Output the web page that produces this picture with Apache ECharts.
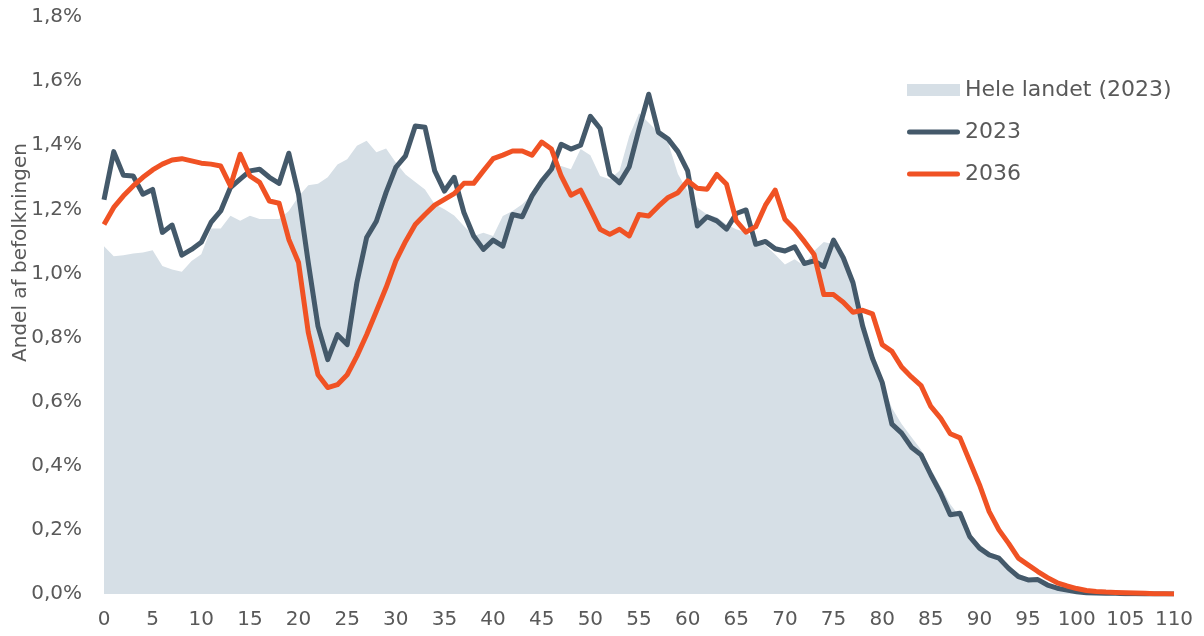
<!DOCTYPE html>
<html>
<head>
<meta charset="utf-8">
<script src="https://cdn.jsdelivr.net/npm/echarts@6/dist/echarts.min.js"></script>
<style>
  html, body { margin: 0; padding: 0; background: #fff; }
  #chart { width: 1204px; height: 636px; }
</style>
</head>
<body>
<div id="chart"></div>
<script>
// alder 0..110
const ages = [];
for (let a = 0; a <= 110; a++) ages.push(String(a));

// andel af befolkningen i procent
const heleLandet = [
  1.085, 1.054, 1.057, 1.062, 1.065, 1.072, 1.023, 1.012, 1.005, 1.039,
  1.06, 1.14, 1.14, 1.18, 1.164, 1.18, 1.17, 1.17, 1.17, 1.195,
  1.24, 1.275, 1.28, 1.30, 1.34, 1.356, 1.398, 1.414, 1.378, 1.39,
  1.346, 1.309, 1.285, 1.262, 1.216, 1.20, 1.181, 1.148, 1.117, 1.127,
  1.117, 1.179, 1.195, 1.216, 1.247, 1.289, 1.325, 1.335, 1.325, 1.388,
  1.369, 1.304, 1.294, 1.32, 1.429, 1.50, 1.47, 1.44, 1.408, 1.31,
  1.257, 1.206, 1.184, 1.175, 1.153, 1.138, 1.128, 1.104, 1.088, 1.059,
  1.028, 1.044, 1.023, 1.07, 1.098, 1.091, 1.044, 0.966, 0.847, 0.74,
  0.66, 0.58, 0.53, 0.49, 0.45, 0.39, 0.335, 0.28, 0.24, 0.19,
  0.155, 0.13, 0.108, 0.085, 0.064, 0.05, 0.04, 0.03, 0.02, 0.014,
  0.009, 0.006, 0.004, 0.003, 0.002, 0.001, 0.001, 0.0005, 0, 0, 0
];

const v2023 = [
  1.23, 1.38, 1.306, 1.304, 1.247, 1.262, 1.128, 1.151, 1.057, 1.075,
  1.097, 1.159, 1.195, 1.268, 1.294, 1.32, 1.325, 1.30, 1.281, 1.375,
  1.247, 1.034, 0.835, 0.731, 0.809, 0.778, 0.972, 1.112, 1.163, 1.253,
  1.331, 1.367, 1.46, 1.456, 1.32, 1.257, 1.30, 1.19, 1.117, 1.075,
  1.104, 1.085, 1.184, 1.177, 1.242, 1.288, 1.325, 1.403, 1.388, 1.40,
  1.49, 1.452, 1.309, 1.283, 1.333, 1.45, 1.559, 1.44, 1.419, 1.38,
  1.32, 1.148, 1.177, 1.164, 1.138, 1.187, 1.198, 1.091, 1.10, 1.077,
  1.07, 1.083, 1.031, 1.039, 1.021, 1.104, 1.049, 0.971, 0.835, 0.735,
  0.66, 0.53, 0.502, 0.458, 0.434, 0.372, 0.315, 0.247, 0.252, 0.179,
  0.143, 0.122, 0.112, 0.08, 0.054, 0.044, 0.045, 0.028, 0.018, 0.012,
  0.007, 0.004, 0.003, 0.002, 0.002, 0.001, 0.001, 0, 0, 0, 0
];

const v2036 = [
  1.153, 1.206, 1.242, 1.273, 1.30, 1.323, 1.341, 1.354, 1.358, 1.351,
  1.344, 1.341, 1.335, 1.273, 1.372, 1.304, 1.284, 1.226, 1.219, 1.106,
  1.034, 0.816, 0.684, 0.644, 0.653, 0.684, 0.742, 0.809, 0.882, 0.956,
  1.039, 1.10, 1.153, 1.184, 1.213, 1.231, 1.249, 1.281, 1.281, 1.32,
  1.358, 1.369, 1.382, 1.382, 1.369, 1.41, 1.388, 1.304, 1.244, 1.26,
  1.20, 1.138, 1.122, 1.138, 1.117, 1.184, 1.179, 1.21, 1.237, 1.252,
  1.289, 1.266, 1.263, 1.309, 1.278, 1.164, 1.129, 1.146, 1.213, 1.26,
  1.169, 1.138, 1.10, 1.059, 0.934, 0.934, 0.91, 0.879, 0.885, 0.874,
  0.778, 0.757, 0.708, 0.677, 0.65, 0.585, 0.549, 0.50, 0.487, 0.414,
  0.341, 0.257, 0.20, 0.158, 0.112, 0.091, 0.07, 0.051, 0.035, 0.025,
  0.017, 0.011, 0.008, 0.006, 0.005, 0.004, 0.003, 0.002, 0.001, 0.001, 0
];

const textColor = '#595959';
const fontFamily = 'DejaVu Sans';
// tyk streg med runde ender til legenden
const lineIcon = 'path://M2.5,0 H50.5 A2.5,2.5 0 0 1 50.5,5 H2.5 A2.5,2.5 0 0 1 2.5,0 Z';

const chart = echarts.init(document.getElementById('chart'));
chart.setOption({
  animation: false,
  textStyle: { fontFamily: fontFamily },
  grid: { left: 104, right: 30, top: 17, bottom: 42, outerBoundsMode: 'none', containLabel: false },
  legend: {
    orient: 'vertical',
    left: 902,
    top: 74,
    itemGap: 20,
    itemWidth: 53,
    itemHeight: 12,
    textStyle: { color: textColor, fontSize: 22, fontFamily: fontFamily },
    data: [
      { name: 'Hele landet (2023)', icon: 'rect' },
      { name: '2023', icon: lineIcon },
      { name: '2036', icon: lineIcon }
    ]
  },
  xAxis: {
    type: 'category',
    data: ages,
    boundaryGap: false,
    axisLine: { show: false },
    axisTick: { show: false },
    splitLine: { show: false },
    axisLabel: {
      interval: 4,
      color: textColor,
      fontSize: 20,
      margin: 16
    }
  },
  yAxis: {
    type: 'value',
    min: 0,
    max: 1.8,
    interval: 0.2,
    name: 'Andel af befolkningen',
    nameLocation: 'middle',
    nameGap: 73,
    nameMoveOverlap: false,
    nameTextStyle: { color: textColor, fontSize: 20, padding: [0, 0, 0, 106] },
    axisLine: { show: false },
    axisTick: { show: false },
    splitLine: { show: false },
    axisLabel: {
      color: textColor,
      fontSize: 20,
      margin: 22,
      formatter: v => v.toFixed(1).replace('.', ',') + '%'
    }
  },
  series: [
    {
      name: 'Hele landet (2023)',
      type: 'line',
      data: heleLandet,
      symbol: 'none',
      itemStyle: { color: '#d6dfe6' },
      lineStyle: { width: 0 },
      areaStyle: { color: '#d6dfe6', opacity: 1 },
      z: 1
    },
    {
      name: '2023',
      type: 'line',
      data: v2023,
      symbol: 'none',
      itemStyle: { color: '#44596a' },
      lineStyle: { width: 5, color: '#44596a', join: 'round' },
      z: 2
    },
    {
      name: '2036',
      type: 'line',
      data: v2036,
      symbol: 'none',
      itemStyle: { color: '#f05224' },
      lineStyle: { width: 5, color: '#f05224', join: 'round' },
      z: 3
    }
  ]
});
</script>
</body>
</html>
